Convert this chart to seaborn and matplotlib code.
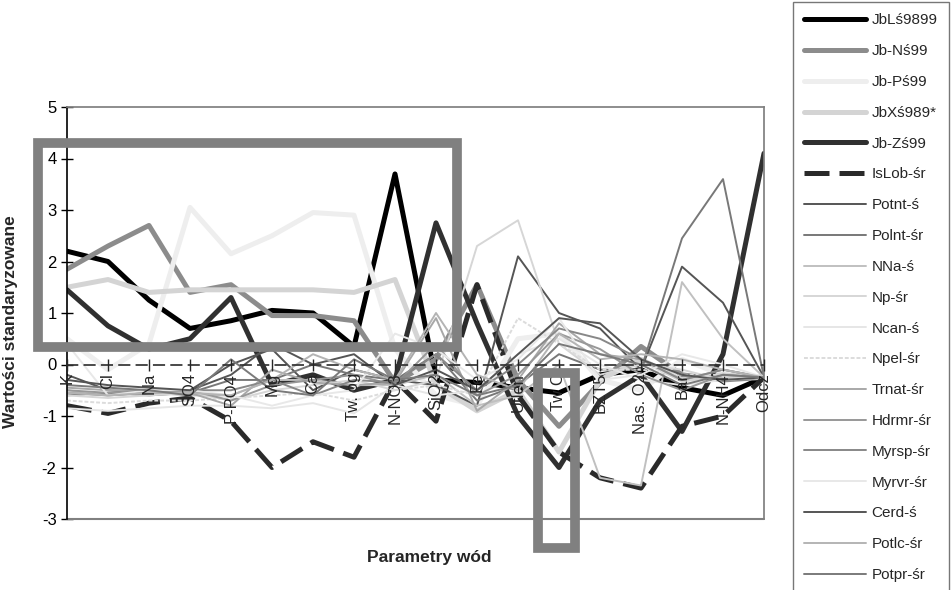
import numpy as np
import pandas as pd
import seaborn as sns
import matplotlib.pyplot as plt
import matplotlib.patches as mpatches

params = ["K", "Cl", "Na", "SO4", "P-PO4", "Mg", "Ca", "Tw. og", "N-NO3", "SiO2",
          "Fe", "Utlen", "Tw C", "BZT5", "Nas. O2", "Bar", "N-NH4", "Odcz"]

jbl = [2.2, 2.0, 1.25, 0.7, 0.85, 1.05, 1.0, 0.35, 3.7, -0.3, -0.35, -0.45, -0.55, -0.2, -0.1, -0.45, -0.6, -0.25]
jbn = [1.85, 2.3, 2.7, 1.4, 1.55, 0.95, 0.95, 0.85, -0.35, 0.1, 1.55, -0.3, -1.2, -0.35, 0.35, -0.2, -0.3, -0.25]
jbp = [0.5, -0.1, 0.4, 3.05, 2.15, 2.5, 2.95, 2.9, 0.3, -0.6, -0.8, 0.5, 0.6, -0.3, -0.5, 0.1, -0.2, -0.25]
jbx = [1.5, 1.65, 1.4, 1.45, 1.45, 1.45, 1.45, 1.4, 1.65, -0.4, -0.9, -0.5, -1.7, -0.3, 0.1, -0.3, -0.2, -0.25]
jbz = [1.45, 0.75, 0.3, 0.5, 1.3, -0.4, -0.2, -0.5, -0.3, 2.75, 0.8, -1.0, -2.0, -0.7, -0.2, -1.3, 0.2, 4.1]
islob = [-0.8, -0.95, -0.75, -0.65, -1.1, -2.0, -1.5, -1.8, -0.3, -1.1, 1.55, -0.6, -1.7, -2.2, -2.4, -1.2, -1.0, -0.25]
potnt = [-0.2, -0.5, -0.55, -0.5, 0.0, 0.3, -0.5, -0.1, -0.3, -0.4, -0.8, 2.1, 1.0, 0.7, -0.1, 1.9, 1.2, -0.25]
polnt = [-0.6, -0.55, -0.6, -0.55, -0.3, -0.3, 0.0, -0.2, -0.3, 0.2, -0.7, -0.4, 0.2, -0.1, -0.1, 2.45, 3.6, -0.25]
nna = [-0.5, -0.6, -0.55, -0.6, -0.6, -0.3, -0.3, -0.4, -0.4, -0.2, -0.8, -0.6, 0.0, -2.2, -2.35, 1.6, 0.5, -0.25]
np_sr = [-0.6, -0.65, -0.6, -0.55, -0.7, -0.5, -0.4, -0.3, -0.5, -0.3, 2.3, 2.8, 0.4, -0.2, 0.0, -0.1, -0.3, -0.25]
ncan = [-0.85, -0.9, -0.85, -0.8, -0.8, -0.85, -0.75, -0.95, -0.4, -0.6, -0.5, 0.2, 0.5, 0.0, -0.3, -0.4, -0.3, -0.25]
npel = [-0.7, -0.75, -0.7, -0.7, -0.65, -0.6, -0.55, -0.7, -0.5, -0.4, -0.6, 0.9, 0.4, -0.1, -0.1, -0.2, -0.2, -0.25]
trnat = [-0.45, -0.5, -0.5, -0.55, -0.8, -0.1, -0.35, -0.4, -0.35, 0.9, -0.9, -0.3, 0.8, 0.2, 0.1, -0.3, -0.1, -0.25]
hdrmr = [-0.5, -0.55, -0.5, -0.5, -0.7, -0.4, -0.3, -0.2, -0.4, 0.4, -0.6, -0.2, 0.6, 0.3, -0.2, -0.5, -0.2, -0.25]
myrsp = [-0.55, -0.6, -0.55, -0.5, -0.5, -0.3, -0.6, -0.3, -0.35, 0.2, -0.5, 0.0, 0.7, 0.5, 0.1, -0.3, -0.1, -0.25]
myrvr = [0.4, -0.6, -0.5, -0.5, -0.6, -0.8, -0.6, -0.5, 0.6, 0.3, -0.3, 0.1, 0.9, -0.3, -0.2, 0.2, 0.0, -0.25]
cerd = [-0.3, -0.4, -0.45, -0.5, -0.2, 0.4, 0.0, 0.2, -0.4, -0.1, -0.5, 0.2, 0.9, 0.8, 0.1, -0.2, -0.3, -0.25]
potlc = [-0.55, -0.6, -0.55, -0.55, -0.6, -0.3, 0.2, -0.1, -0.3, 1.0, -0.2, -0.5, 0.6, 0.1, 0.2, 0.1, -0.1, -0.25]
potpr = [-0.4, -0.45, -0.5, -0.6, 0.1, -0.5, -0.6, 0.1, -0.3, -0.2, -0.6, -0.4, 0.4, 0.2, 0.0, -0.4, -0.2, -0.25]

# nazwa, wartosci, kolor, grubosc, styl
series = [
    ("JbLś9899", jbl, "#000000", 3.6, "-"),
    ("Jb-Nś99", jbn, "#8c8c8c", 3.6, "-"),
    ("Jb-Pś99", jbp, "#eeeeee", 3.6, "-"),
    ("JbXś989*", jbx, "#d4d4d4", 3.6, "-"),
    ("Jb-Zś99", jbz, "#303030", 3.6, "-"),
    ("IsLob-śr", islob, "#2a2a2a", 3.6, (0, (5, 2))),
    ("Potnt-ś", potnt, "#555555", 1.4, "-"),
    ("Polnt-śr", polnt, "#787878", 1.4, "-"),
    ("NNa-ś", nna, "#c0c0c0", 1.4, "-"),
    ("Np-śr", np_sr, "#d6d6d6", 1.4, "-"),
    ("Ncan-ś", ncan, "#e6e6e6", 1.4, "-"),
    ("Npel-śr", npel, "#dcdcdc", 1.4, (0, (2, 1))),
    ("Trnat-śr", trnat, "#a8a8a8", 1.4, "-"),
    ("Hdrmr-śr", hdrmr, "#989898", 1.4, "-"),
    ("Myrsp-śr", myrsp, "#888888", 1.4, "-"),
    ("Myrvr-śr", myrvr, "#e8e8e8", 1.4, "-"),
    ("Cerd-ś", cerd, "#555555", 1.4, "-"),
    ("Potlc-śr", potlc, "#b4b4b4", 1.4, "-"),
    ("Potpr-śr", potpr, "#7a7a7a", 1.4, "-"),
]

sns.set_theme(style="white")
plt.rcParams['font.family'] = ['Liberation Sans', 'DejaVu Sans']
plt.rcParams['axes.unicode_minus'] = False

fig = plt.figure(figsize=(9.52, 5.90), dpi=100)
ax = fig.add_axes([67/952, 1 - 519/590, (764 - 67)/952, (519 - 107)/590])

x = np.arange(len(params))
for name, vals, col, lw, ls in series:
    df = pd.DataFrame({"param": x, "value": vals})
    sns.lineplot(data=df, x="param", y="value", ax=ax, color=col, lw=lw,
                 linestyle=ls, label=name, sort=False)

handles, labels = ax.get_legend_handles_labels()
if ax.get_legend() is not None:
    ax.get_legend().remove()

# os X przechodzi przez zero
ax.spines['bottom'].set_position(('data', 0))
ax.spines['bottom'].set_linestyle((0, (6, 4)))
ax.spines['bottom'].set_color('#333333')
ax.spines['left'].set_color('black')
ax.spines['left'].set_linewidth(1.2)
ax.spines['top'].set_color('#808080')
ax.spines['right'].set_color('#808080')
ax.axhline(-3, color='#808080', lw=1.5, clip_on=False)

ax.set_xlim(0, len(params) - 1)
ax.set_ylim(-3, 5)
ax.set_yticks(range(-3, 6))
ax.set_xticks(x)
ax.set_xticklabels(params, rotation=90, fontsize=12)
ax.tick_params(axis='y', labelsize=12, direction='inout', length=8, width=1, left=True, colors='black')
ax.tick_params(axis='x', direction='inout', length=8, width=1, bottom=True, pad=2)
ax.xaxis.set_zorder(3)

ax.set_xlabel("Parametry wód", fontsize=12.5, fontweight='bold')
ax.xaxis.set_label_coords(0.52, -0.075)
ax.set_ylabel("Wartości standaryzowane", fontsize=12.5, fontweight='bold')
ax.yaxis.set_label_coords(-0.07, 0.48)

# ramki wyrozniajace
boxes = [(-0.707, 0.34, 9.51 + 0.707, 4.30 - 0.34),
         (11.49, -3.56, 12.39 - 11.49, -0.165 + 3.56)]
for bx, by, bw, bh in boxes:
    ax.add_patch(mpatches.Rectangle((bx, by), bw, bh, fill=False, edgecolor='#808080',
                                    lw=7, clip_on=False, zorder=10, joinstyle='miter'))

leg = fig.legend(handles, labels, loc='upper left', bbox_to_anchor=(793/952, 1 - 2/590),
                 frameon=True, fancybox=False, fontsize=11, handlelength=4.0,
                 handletextpad=0.4, labelspacing=1.1, borderpad=0.75, borderaxespad=0)
leg.get_frame().set_edgecolor('#555555')
leg.get_frame().set_linewidth(1)

fig.savefig("out.png", dpi=100)
